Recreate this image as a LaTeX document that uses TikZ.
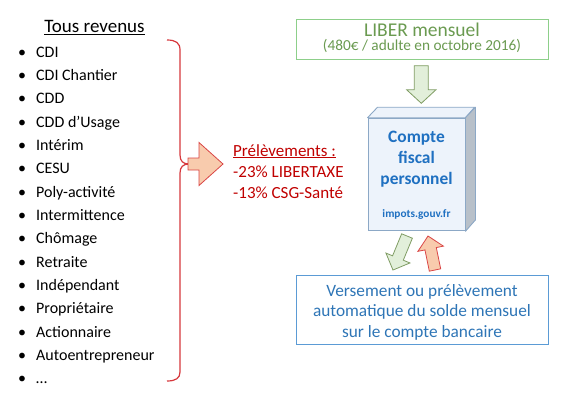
\documentclass[tikz,border=0pt]{standalone}
\usepackage{fontspec}
\setmainfont{Carlito}
\definecolor{bracered}{HTML}{D6373C}
\definecolor{textred}{HTML}{C00000}
\definecolor{orfill}{HTML}{F8CBAD}
\definecolor{ordraw}{HTML}{D94545}
\definecolor{gbox}{HTML}{8DCF8A}
\definecolor{gtext}{HTML}{6A9A50}
\definecolor{garfill}{HTML}{E2EFDA}
\definecolor{gardraw}{HTML}{7F9C63}
\definecolor{cubefront}{HTML}{EDF3FB}
\definecolor{cubeside}{HTML}{B8C0C9}
\definecolor{cubedraw}{HTML}{8CA8C6}
\definecolor{cubetext}{HTML}{1F70C1}
\definecolor{bbox}{HTML}{5B9BD5}
\definecolor{btext}{HTML}{2E75B6}
\newcommand\blkarrow[7]{%
  \draw[#1,shift={(#2)},rotate=#3] (0,-#5) -- ({#4-#7},-#5) -- ({#4-#7},-#6) -- (#4,0)
    -- ({#4-#7},#6) -- ({#4-#7},#5) -- (0,#5) -- cycle;}
\tikzset{
  itemtxt/.style={anchor=base west,inner sep=0pt,font=\fontsize{16}{19}\selectfont},
  bul/.style={anchor=base,inner sep=0pt,font=\fontsize{16}{19}\selectfont},
  redtxt/.style={anchor=base west,inner sep=0pt,text=textred,font=\fontsize{17}{20}\selectfont},
  orarrow/.style={fill=orfill,draw=ordraw,line width=0.8pt,line join=miter},
  grarrow/.style={fill=garfill,draw=gardraw,line width=0.8pt,line join=miter},
}
\begin{document}
\begin{tikzpicture}[x=1pt,y=-1pt]
\useasboundingbox (0,0) rectangle (565,402);
% title
\node (title) at (94.5,32.3) [anchor=base,inner sep=0pt,font=\fontsize{19}{22}\selectfont] {\underline{Tous revenus}};
% list
\foreach \t [count=\i from 0] in {CDI,CDI Chantier,CDD,CDD d’Usage,Intérim,CESU,Poly-activité,Intermittence,Chômage,Retraite,Indépendant,Propriétaire,Actionnaire,Autoentrepreneur,…}{
  \node (b\i) at (22,57+23.35*\i) [bul] {•};
  \node (it\i) at (36,57+23.35*\i) [itemtxt] {\t};
}
% brace
\coordinate (brtop) at (167,40);
\coordinate (brtip) at (189,164);
\coordinate (brbot) at (167,381);
\draw[bracered,line width=1.2pt] (brtop) .. controls (176,40) and (180,43) .. (180,50) -- (180,155)
   .. controls (180,161) and (183,164) .. (brtip)
   .. controls (183,164) and (180,167) .. (180,173) -- (180,372)
   .. controls (180,378) and (176,381) .. (brbot);
% big arrow
\blkarrow{orarrow}{188,164}{0}{35}{6}{21.5}{24}
% prelevements
\node (p1) at (233,156) [redtxt] {\underline{Prélèvements :}};
\node (p2) at (233,177.3) [redtxt] {-23\% LIBERTAXE};
\node (p3) at (233,198.3) [redtxt] {-13\% CSG-Santé};
% green box
\node (liber) [draw=gbox,line width=0.9pt,minimum width=252pt,minimum height=40.3pt,inner sep=0pt] at (422,39.2) {};
\node (l1) at (422,36) [anchor=base,inner sep=0pt,text=gtext,font=\fontsize{19.5}{22}\selectfont] {LIBER mensuel};
\node (l2) at (422,50.5) [anchor=base,inner sep=0pt,text=gtext,font=\fontsize{15.3}{18}\selectfont] {(480€ / adulte en octobre 2016)};
% green down arrow
\blkarrow{grarrow}{421.3,65.7}{-90}{37.6}{7}{14.6}{13.5}
% cube
\node (cube) [draw=cubedraw,fill=cubefront,line width=0.9pt,minimum width=97pt,minimum height=112.7pt,inner sep=0pt] at (416.5,174.5) {};
\draw[draw=cubedraw,fill=cubefront,line width=0.9pt,line join=round] (cube.north west) -- ++(10,-10.5) -- ++(97,0) -- (cube.north east) -- cycle;
\draw[draw=cubedraw,fill=cubeside,line width=0.9pt,line join=round] (cube.north east) -- ++(10,-10.5) -- ++(0,112.7) -- (cube.south east) -- cycle;
\node (c1) at (416.5,142.7) [anchor=base,inner sep=0pt,text=cubetext,font=\bfseries\fontsize{17.4}{20}\selectfont] {Compte};
\node (c2) at (416.5,163.5) [anchor=base,inner sep=0pt,text=cubetext,font=\bfseries\fontsize{17.4}{20}\selectfont] {fiscal};
\node (c3) at (416.5,184.3) [anchor=base,inner sep=0pt,text=cubetext,font=\bfseries\fontsize{17.4}{20}\selectfont] {personnel};
\node (c4) at (416.5,217.5) [anchor=base,inner sep=0pt,text=cubetext,font=\bfseries\fontsize{11.3}{13}\selectfont] {impots.gouv.fr};
% tilted arrows
\blkarrow{grarrow}{407,236}{-112.4}{36.8}{5.8}{13}{13}
\blkarrow{orarrow}{435,270}{101.6}{34.7}{5.8}{13}{13}
% bottom box
\node (bank) [draw=bbox,line width=0.9pt,minimum width=252pt,minimum height=69pt,inner sep=0pt] at (422,309.5) {};
\node (v1) at (422,296) [anchor=base,inner sep=0pt,text=btext,font=\fontsize{17.3}{20}\selectfont] {Versement ou prélèvement};
\node (v2) at (422,316.5) [anchor=base,inner sep=0pt,text=btext,font=\fontsize{17.3}{20}\selectfont] {automatique du solde mensuel};
\node (v3) at (422,337) [anchor=base,inner sep=0pt,text=btext,font=\fontsize{17.3}{20}\selectfont] {sur le compte bancaire};
\end{tikzpicture}
\end{document}
